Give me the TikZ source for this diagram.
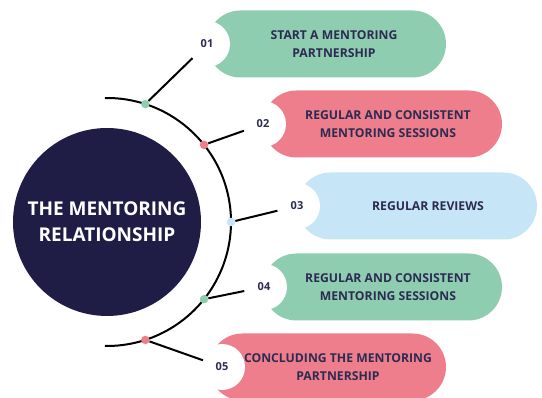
\documentclass[tikz,border=0pt]{standalone}
\usepackage{fontspec}
\setmainfont{Open Sans}
\usetikzlibrary{calc}

\definecolor{navy}{HTML}{1F1D45}
\definecolor{mint}{HTML}{8FCDB1}
\definecolor{rose}{HTML}{EE7E8C}
\definecolor{sky}{HTML}{C6E5F6}
\definecolor{ink}{HTML}{2C2B52}

\begin{document}
\begin{tikzpicture}[x=1pt, y=-1pt,
                    hub/.style = {circle, fill=navy, minimum size=188pt,
                        align=center, text=white,
                        font=\bfseries\fontsize{19}{26}\selectfont},
                    num/.style = {circle, fill=white, minimum size=46pt,
                        inner sep=0pt, text=ink,
                        font=\bfseries\fontsize{11}{12}\selectfont},
                    dot/.style = {circle, inner sep=0pt, minimum size=8.5pt},
                    txt/.style = {align=center, text=ink,
                        font=\bfseries\fontsize{12.2}{18}\selectfont},
                    link/.style = {line width=2pt, shorten >=-3pt}]
    \useasboundingbox (0,0) rectangle (542,398);
    \coordinate (ctr) at (107,222);

    % centre disc and the arc round it
    \node[hub] (hub) at (ctr) {THE MENTORING\\RELATIONSHIP};
    \draw[line width=2pt] ($(ctr)+(-91:124)$) arc[start angle=-91, end angle=91, radius=124];

    % steps: band, number, dot, link
    \foreach \i/\lx/\rx/\y/\col/\nx/\tx/\ang/\txt in {
        1/207/446/44/mint/207/334/-72/{START A MENTORING\\PARTNERSHIP},
        2/263/502/124/rose/263/388/-38.5/{REGULAR AND CONSISTENT\\MENTORING SESSIONS},
        3/297/537/206/sky/297/428/0/{REGULAR REVIEWS},
        4/263/502/287/mint/264/388/38.5/{REGULAR AND CONSISTENT\\MENTORING SESSIONS},
        5/209/446/367/rose/222/338/72/{CONCLUDING THE MENTORING\\PARTNERSHIP}}
    {
        \fill[\col, rounded corners=33.5pt] (\lx,\y-33.5) rectangle (\rx,\y+33.5);
        \node[txt] (t\i) at (\tx,\y) {\txt};
        \node[num] (n\i) at (\nx,\y) {0\i};
        \node[dot, fill=\col] (d\i) at ($(ctr)+(\ang:124)$) {};
        \draw[link] (d\i) -- (n\i);
    }
\end{tikzpicture}
\end{document}
